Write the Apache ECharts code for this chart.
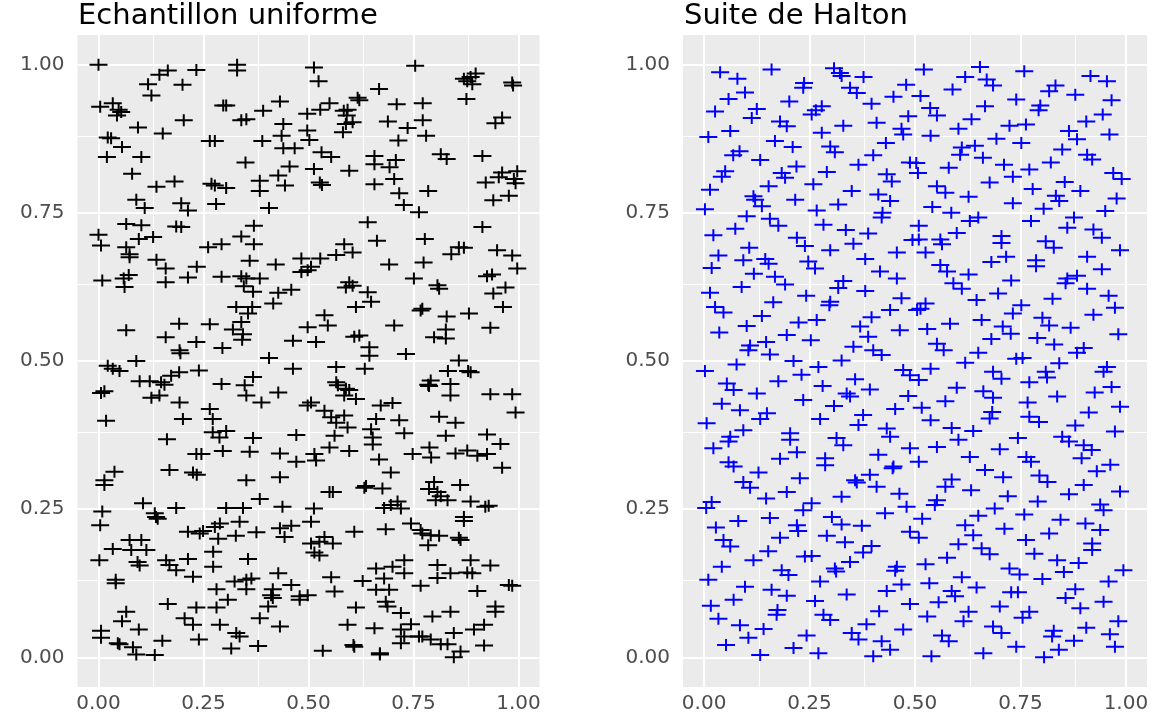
<!DOCTYPE html>
<html>
<head>
<meta charset="utf-8">
<script src="https://cdn.jsdelivr.net/npm/echarts@6/dist/echarts.min.js"></script>
<style>
  html, body { margin: 0; padding: 0; background: #ffffff; }
  #chart { width: 1166px; height: 723px; }
</style>
</head>
<body>
<div id="chart"></div>
<script>
// Panel titles
const panelTitles = ['Echantillon uniforme', 'Suite de Halton'];

// Tick positions and labels (major grid) and minor grid positions
const majorTicks = [0, 0.25, 0.5, 0.75, 1];
const tickLabels = ['0.00', '0.25', '0.50', '0.75', '1.00'];
const minorTicks = [0.125, 0.375, 0.625, 0.875];

// Uniform random sample: [x, y]
const uniformPoints = [
  [0.00,1.00],[0.33,1.00],[0.33,0.99],[0.165,0.99],[0.145,0.983],[0.233,0.991],[0.118,0.967],[0.20,0.966],[0.126,0.948],[0.004,0.929],
  [0.034,0.935],[0.048,0.924],[0.044,0.914],[0.054,0.92],[0.297,0.931],[0.304,0.931],[0.432,0.938],[0.392,0.922],[0.34,0.906],[0.352,0.908],
  [0.203,0.906],[0.094,0.894],[0.153,0.884],[0.022,0.877],[0.03,0.876],[0.056,0.861],[0.02,0.844],[0.102,0.844],[0.265,0.871],[0.277,0.871],
  [0.39,0.871],[0.44,0.90],[0.436,0.88],[0.44,0.859],[0.467,0.859],[0.35,0.835],[0.455,0.828],[0.08,0.816],[0.428,0.813],[0.444,0.796],
  [0.138,0.794],[0.181,0.803],[0.269,0.799],[0.277,0.796],[0.304,0.792],[0.384,0.804],[0.384,0.787],[0.09,0.772],[0.11,0.758],[0.197,0.766],
  [0.213,0.754],[0.28,0.765],[0.406,0.758],[0.066,0.731],[0.102,0.729],[0.185,0.727],[0.197,0.726],[0.37,0.728],[0.00,0.713],[0.006,0.695],
  [0.096,0.706],[0.13,0.709],[0.066,0.692],[0.074,0.68],[0.261,0.692],[0.293,0.697],[0.34,0.71],[0.37,0.697],
  [0.513,0.995],[0.524,0.972],[0.754,0.998],[0.87,0.976],[0.886,0.979],[0.898,0.985],[0.89,0.967],[0.878,0.972],[0.985,0.97],[0.987,0.965],
  [0.668,0.959],[0.617,0.944],[0.621,0.94],[0.876,0.942],[0.55,0.935],[0.528,0.924],[0.497,0.917],[0.584,0.922],[0.593,0.924],[0.591,0.914],
  [0.71,0.933],[0.772,0.935],[0.589,0.90],[0.605,0.903],[0.689,0.904],[0.772,0.906],[0.961,0.911],[0.945,0.901],[0.736,0.893],[0.582,0.886],
  [0.497,0.889],[0.502,0.873],[0.78,0.88],[0.714,0.872],[0.531,0.852],[0.554,0.844],[0.657,0.846],[0.657,0.832],[0.693,0.827],[0.708,0.839],
  [0.815,0.849],[0.829,0.841],[0.914,0.846],[0.513,0.824],[0.597,0.821],[0.527,0.801],[0.532,0.797],[0.657,0.798],[0.704,0.807],[0.961,0.818],
  [0.997,0.82],[0.989,0.807],[0.993,0.80],[0.953,0.81],[0.922,0.801],[0.716,0.783],[0.785,0.787],[0.977,0.779],[0.94,0.771],[0.727,0.763],
  [0.763,0.751],[0.641,0.734],[0.914,0.726],[0.663,0.703],[0.777,0.706],[0.585,0.697],[0.605,0.683],[0.858,0.692],[0.87,0.691],[0.949,0.687],
  [0.84,0.68],
  [0.074,0.675],[0.138,0.671],[0.16,0.656],[0.234,0.659],[0.009,0.636],[0.06,0.639],[0.072,0.645],[0.062,0.625],[0.16,0.633],[0.213,0.641],
  [0.293,0.642],[0.34,0.643],[0.352,0.639],[0.384,0.639],[0.346,0.626],[0.368,0.617],[0.36,0.669],[0.422,0.663],[0.483,0.673],[0.483,0.65],
  [0.428,0.615],[0.459,0.62],[0.416,0.597],[0.328,0.591],[0.366,0.591],[0.356,0.58],[0.34,0.566],[0.192,0.563],[0.265,0.562],[0.066,0.552],
  [0.32,0.553],[0.344,0.545],[0.342,0.536],[0.16,0.54],[0.233,0.532],[0.295,0.522],[0.193,0.518],[0.195,0.513],[0.463,0.534],[0.406,0.505],
  [0.09,0.50],[0.022,0.492],[0.034,0.487],[0.05,0.483],[0.463,0.487],[0.192,0.481],[0.239,0.484],[0.173,0.475],[0.098,0.466],[0.122,0.466],
  [0.149,0.464],[0.157,0.46],[0.293,0.461],[0.368,0.473],[0.348,0.459],[0.014,0.449],[0.006,0.446],[0.352,0.442],[0.428,0.447],[0.126,0.438],
  [0.145,0.442],[0.193,0.43],[0.388,0.43],[0.265,0.419],[0.272,0.402],[0.018,0.399],[0.201,0.402],[0.272,0.38],[0.304,0.382],[0.288,0.371],
  [0.296,0.348],[0.471,0.375],[0.368,0.37],[0.163,0.368],[0.233,0.343],[0.245,0.343],[0.36,0.347],[0.432,0.344],[0.471,0.33],
  [0.506,0.659],[0.528,0.673],[0.498,0.653],[0.566,0.679],[0.692,0.663],[0.774,0.666],[0.985,0.678],[0.997,0.656],[0.751,0.639],[0.925,0.643],
  [0.937,0.646],[0.597,0.633],[0.589,0.624],[0.605,0.627],[0.807,0.628],[0.811,0.622],[0.969,0.624],[0.94,0.614],[0.641,0.616],[0.649,0.60],
  [0.613,0.591],[0.771,0.588],[0.767,0.585],[0.882,0.58],[0.829,0.575],[0.963,0.591],[0.538,0.577],[0.546,0.56],[0.498,0.557],[0.704,0.56],
  [0.933,0.556],[0.609,0.541],[0.621,0.543],[0.799,0.54],[0.827,0.553],[0.827,0.538],[0.518,0.532],[0.645,0.523],[0.645,0.509],[0.732,0.512],
  [0.858,0.501],[0.566,0.49],[0.634,0.487],[0.832,0.483],[0.88,0.483],[0.886,0.481],[0.566,0.464],[0.57,0.459],[0.791,0.467],[0.785,0.46],
  [0.787,0.458],[0.838,0.461],[0.838,0.442],[0.589,0.453],[0.597,0.451],[0.613,0.436],[0.585,0.442],[0.933,0.444],[0.985,0.444],[0.506,0.43],
  [0.498,0.425],[0.672,0.425],[0.70,0.429],[0.993,0.413],[0.538,0.416],[0.554,0.405],[0.566,0.396],[0.585,0.408],[0.593,0.388],[0.562,0.374],
  [0.661,0.402],[0.716,0.40],[0.811,0.406],[0.85,0.396],[0.649,0.385],[0.653,0.371],[0.653,0.359],[0.728,0.378],[0.827,0.374],[0.925,0.376],
  [0.957,0.36],[0.514,0.343],[0.518,0.332],[0.55,0.354],[0.597,0.348],[0.668,0.334],[0.748,0.343],[0.788,0.354],[0.792,0.337],[0.85,0.344],
  [0.878,0.349],[0.902,0.34],[0.925,0.343],
  [0.038,0.313],[0.014,0.299],[0.014,0.291],[0.169,0.316],[0.225,0.312],[0.234,0.308],[0.352,0.299],[0.432,0.304],[0.106,0.26],[0.009,0.246],
  [0.004,0.223],[0.134,0.243],[0.137,0.237],[0.141,0.234],[0.185,0.252],[0.304,0.252],[0.344,0.252],[0.384,0.267],[0.438,0.254],[0.289,0.226],
  [0.277,0.22],[0.336,0.229],[0.213,0.212],[0.241,0.209],[0.249,0.213],[0.285,0.20],[0.327,0.205],[0.376,0.211],[0.432,0.218],[0.459,0.222],
  [0.443,0.203],[0.074,0.198],[0.102,0.198],[0.078,0.181],[0.114,0.181],[0.034,0.183],[0.002,0.164],[0.093,0.161],[0.098,0.155],[0.161,0.164],
  [0.169,0.156],[0.185,0.147],[0.213,0.166],[0.273,0.178],[0.273,0.153],[0.356,0.166],[0.225,0.136],[0.428,0.142],[0.041,0.131],[0.041,0.125],
  [0.324,0.128],[0.352,0.131],[0.364,0.133],[0.352,0.115],[0.281,0.115],[0.459,0.122],[0.415,0.115],[0.411,0.105],[0.415,0.10],[0.479,0.103],
  [0.479,0.097],[0.308,0.097],[0.165,0.09],[0.233,0.084],[0.281,0.084],[0.404,0.086],[0.066,0.077],[0.056,0.061],[0.205,0.066],[0.225,0.055],
  [0.289,0.055],[0.384,0.066],[0.432,0.052],[0.096,0.047],[0.006,0.045],[0.006,0.033],[0.328,0.041],[0.336,0.035],[0.046,0.024],[0.05,0.022],
  [0.152,0.028],[0.239,0.03],[0.082,0.017],[0.09,0.005],[0.134,0.004],[0.316,0.015],[0.38,0.019],
  [0.696,0.312],[0.961,0.32],[0.55,0.279],[0.558,0.279],[0.637,0.289],[0.633,0.286],[0.676,0.285],[0.799,0.296],[0.787,0.284],[0.807,0.279],
  [0.815,0.272],[0.831,0.265],[0.803,0.265],[0.861,0.291],[0.886,0.263],[0.921,0.254],[0.929,0.256],[0.513,0.251],[0.68,0.252],[0.696,0.257],
  [0.712,0.263],[0.72,0.251],[0.87,0.237],[0.87,0.23],[0.506,0.229],[0.609,0.212],[0.684,0.216],[0.744,0.226],[0.767,0.215],[0.771,0.209],
  [0.791,0.206],[0.811,0.205],[0.858,0.202],[0.862,0.198],[0.785,0.189],[0.506,0.192],[0.526,0.195],[0.538,0.203],[0.558,0.192],[0.514,0.177],
  [0.526,0.172],[0.728,0.164],[0.661,0.15],[0.68,0.133],[0.70,0.153],[0.728,0.142],[0.807,0.156],[0.807,0.134],[0.838,0.142],[0.886,0.164],
  [0.878,0.143],[0.89,0.142],[0.933,0.155],[0.554,0.135],[0.629,0.129],[0.977,0.122],[0.985,0.121],[0.498,0.105],[0.562,0.111],[0.661,0.114],
  [0.692,0.114],[0.767,0.121],[0.902,0.112],[0.684,0.094],[0.688,0.086],[0.613,0.084],[0.72,0.075],[0.795,0.069],[0.838,0.077],[0.945,0.086],
  [0.945,0.077],[0.593,0.055],[0.657,0.049],[0.72,0.047],[0.744,0.056],[0.728,0.035],[0.763,0.035],[0.771,0.035],[0.791,0.03],[0.815,0.022],
  [0.831,0.022],[0.846,0.041],[0.894,0.047],[0.918,0.055],[0.72,0.024],[0.918,0.02],[0.534,0.011],[0.607,0.021],[0.609,0.018],[0.67,0.007],
  [0.67,0.005],[0.862,0.01],[0.846,0.00]
];

// Halton sequence points: [x, y]
const haltonPoints = [
  [0.038,0.987],[0.079,0.976],[0.16,0.992],[0.237,0.969],[0.235,0.961],[0.308,0.994],[0.322,0.986],[0.326,0.981],[0.378,0.979],[0.097,0.953],
  [0.058,0.942],[0.346,0.961],[0.362,0.952],[0.479,0.966],[0.449,0.946],[0.397,0.934],[0.202,0.938],[0.026,0.921],[0.125,0.925],[0.113,0.91],
  [0.279,0.93],[0.265,0.923],[0.255,0.916],[0.484,0.913],[0.18,0.904],[0.196,0.896],[0.33,0.897],[0.409,0.902],[0.468,0.892],[0.472,0.882],
  [0.01,0.878],[0.062,0.888],[0.279,0.885],[0.168,0.871],[0.21,0.861],[0.084,0.854],[0.069,0.847],[0.299,0.862],[0.31,0.852],[0.431,0.868],
  [0.401,0.847],[0.133,0.839],[0.488,0.835],[0.366,0.831],[0.219,0.828],[0.05,0.82],[0.042,0.811],[0.184,0.817],[0.192,0.809],[0.291,0.819],
  [0.433,0.815],[0.445,0.803],[0.153,0.795],[0.259,0.798],[0.014,0.789],[0.117,0.778],[0.121,0.772],[0.35,0.787],[0.413,0.781],[0.441,0.77],
  [0.216,0.772],[0.318,0.764],[0.137,0.761],[0.002,0.756],[0.267,0.754],[0.423,0.75],[0.421,0.742],[0.101,0.744],[0.156,0.74],[0.176,0.728],
  [0.283,0.73],[0.074,0.723],[0.336,0.721],[0.022,0.712],[0.389,0.715],[0.22,0.708],[0.239,0.694],[0.354,0.698],[0.107,0.691],[0.299,0.687],
  [0.494,0.704],[0.457,0.683],[0.034,0.678],
  [0.521,0.992],[0.654,0.996],[0.619,0.979],[0.67,0.975],[0.685,0.965],[0.759,0.989],[0.916,0.981],[0.955,0.972],[0.589,0.958],[0.833,0.965],
  [0.818,0.955],[0.513,0.947],[0.88,0.949],[0.966,0.94],[0.74,0.941],[0.666,0.93],[0.797,0.931],[0.793,0.923],[0.536,0.927],[0.552,0.914],
  [0.634,0.908],[0.945,0.916],[0.906,0.904],[0.724,0.897],[0.763,0.899],[0.603,0.892],[0.865,0.888],[0.884,0.874],[0.537,0.88],[0.961,0.882],
  [0.693,0.875],[0.752,0.868],[0.611,0.86],[0.607,0.848],[0.642,0.863],[0.849,0.857],[0.908,0.848],[0.92,0.84],[0.661,0.843],[0.503,0.834],
  [0.507,0.817],[0.58,0.826],[0.711,0.831],[0.822,0.835],[0.771,0.823],[0.732,0.811],[0.97,0.817],[0.99,0.807],[0.677,0.801],[0.855,0.802],
  [0.552,0.795],[0.572,0.784],[0.779,0.79],[0.892,0.787],[0.834,0.779],[0.842,0.77],[0.627,0.777],[0.978,0.774],[0.732,0.766],[0.541,0.76],
  [0.586,0.75],[0.805,0.757],[0.951,0.753],[0.65,0.742],[0.63,0.736],[0.509,0.728],[0.775,0.736],[0.877,0.742],[0.861,0.725],[0.923,0.722],
  [0.943,0.708],[0.599,0.716],[0.56,0.705],[0.564,0.697],[0.509,0.705],[0.705,0.711],[0.705,0.699],[0.81,0.702],[0.829,0.691],[0.525,0.683],
  [0.986,0.687],
  [0.018,0.657],[0.093,0.67],[0.145,0.672],[0.153,0.664],[0.247,0.668],[0.263,0.656],[0.382,0.672],[0.118,0.647],[0.168,0.642],[0.192,0.629],
  [0.417,0.651],[0.457,0.639],[0.089,0.625],[0.33,0.635],[0.318,0.623],[0.014,0.615],[0.242,0.61],[0.382,0.618],[0.468,0.606],[0.164,0.599],
  [0.299,0.60],[0.297,0.594],[0.026,0.591],[0.046,0.582],[0.441,0.586],[0.137,0.576],[0.397,0.574],[0.224,0.565],[0.267,0.569],[0.101,0.559],
  [0.37,0.558],[0.464,0.552],[0.036,0.548],[0.196,0.544],[0.389,0.541],[0.147,0.532],[0.109,0.526],[0.105,0.518],[0.253,0.535],[0.354,0.524],
  [0.401,0.518],[0.421,0.51],[0.156,0.511],[0.212,0.50],[0.326,0.501],[0.077,0.494],[0.271,0.49],[0.002,0.483],[0.472,0.485],[0.488,0.476],
  [0.231,0.477],[0.176,0.466],[0.358,0.469],[0.054,0.462],[0.07,0.451],[0.281,0.458],[0.125,0.445],[0.338,0.445],[0.346,0.44],[0.393,0.452],
  [0.484,0.441],[0.235,0.434],[0.042,0.428],[0.308,0.424],[0.085,0.417],[0.453,0.419],[0.149,0.412],[0.133,0.402],[0.377,0.409],[0.275,0.402],
  [0.006,0.395],[0.366,0.392],[0.433,0.386],[0.441,0.372],[0.093,0.383],[0.062,0.372],[0.058,0.364],[0.204,0.378],[0.204,0.367],[0.314,0.37],
  [0.33,0.358],[0.022,0.353],[0.22,0.346],[0.413,0.342],[0.488,0.353],[0.18,0.335],[0.287,0.336],[0.287,0.324],[0.058,0.329],[0.07,0.322],
  [0.449,0.322],
  [0.56,0.662],[0.576,0.651],[0.681,0.667],[0.716,0.676],[0.787,0.67],[0.787,0.66],[0.908,0.676],[0.627,0.646],[0.728,0.636],[0.861,0.639],
  [0.857,0.631],[0.884,0.644],[0.943,0.655],[0.591,0.631],[0.611,0.622],[0.908,0.622],[0.646,0.603],[0.697,0.614],[0.826,0.605],[0.959,0.61],
  [0.525,0.597],[0.513,0.588],[0.505,0.586],[0.752,0.594],[0.974,0.59],[0.732,0.58],[0.923,0.578],[0.802,0.573],[0.818,0.56],[0.658,0.569],
  [0.583,0.563],[0.708,0.558],[0.727,0.546],[0.529,0.554],[0.869,0.556],[0.982,0.545],[0.681,0.537],[0.79,0.539],[0.552,0.529],[0.568,0.518],
  [0.83,0.528],[0.90,0.522],[0.884,0.514],[0.65,0.514],[0.74,0.504],[0.755,0.505],[0.619,0.497],[0.842,0.496],[0.537,0.487],[0.955,0.49],
  [0.947,0.482],[0.685,0.482],[0.705,0.47],[0.81,0.482],[0.813,0.472],[0.509,0.468],[0.771,0.464],[0.599,0.455],[0.966,0.456],[0.662,0.449],
  [0.685,0.438],[0.926,0.447],[0.837,0.44],[0.572,0.432],[0.767,0.43],[0.516,0.421],[0.986,0.423],[0.683,0.414],[0.677,0.403],[0.912,0.413],
  [0.771,0.406],[0.794,0.397],[0.537,0.40],[0.88,0.391],[0.587,0.387],[0.638,0.382],[0.974,0.381],[0.849,0.372],[0.865,0.364],[0.744,0.37],
  [0.603,0.367],[0.552,0.355],[0.90,0.358],[0.919,0.35],[0.701,0.351],[0.63,0.338],[0.764,0.338],[0.775,0.33],[0.895,0.336],[0.509,0.33],
  [0.963,0.325],
  [0.129,0.312],[0.227,0.302],[0.093,0.296],[0.109,0.286],[0.358,0.299],[0.362,0.295],[0.393,0.308],[0.447,0.319],[0.409,0.288],[0.196,0.279],
  [0.326,0.271],[0.147,0.268],[0.463,0.276],[0.018,0.262],[0.005,0.252],[0.255,0.26],[0.235,0.248],[0.48,0.254],[0.429,0.243],[0.156,0.235],
  [0.081,0.23],[0.303,0.237],[0.326,0.224],[0.028,0.219],[0.22,0.223],[0.223,0.213],[0.374,0.222],[0.18,0.202],[0.291,0.205],[0.046,0.198],
  [0.062,0.187],[0.334,0.194],[0.488,0.212],[0.152,0.179],[0.397,0.188],[0.377,0.177],[0.239,0.17],[0.255,0.171],[0.117,0.164],[0.346,0.161],
  [0.042,0.153],[0.184,0.147],[0.20,0.139],[0.31,0.15],[0.313,0.145],[0.457,0.153],[0.453,0.146],[0.01,0.131],[0.275,0.128],[0.097,0.119],
  [0.16,0.114],[0.468,0.123],[0.338,0.106],[0.433,0.112],[0.196,0.104],[0.07,0.097],[0.263,0.095],[0.016,0.087],[0.488,0.09],[0.174,0.08],
  [0.172,0.072],[0.283,0.072],[0.299,0.063],[0.415,0.078],[0.034,0.065],[0.385,0.056],[0.085,0.054],[0.141,0.048],[0.472,0.047],[0.243,0.037],
  [0.35,0.041],[0.366,0.03],[0.105,0.033],[0.421,0.027],[0.441,0.013],[0.052,0.021],[0.212,0.016],[0.271,0.007],[0.133,0.004],[0.401,0.002],
  [0.666,0.316],[0.709,0.304],[0.795,0.307],[0.814,0.296],[0.931,0.314],[0.587,0.30],[0.572,0.288],[0.90,0.291],[0.633,0.282],[0.986,0.28],
  [0.865,0.275],[0.72,0.272],[0.552,0.265],[0.547,0.257],[0.791,0.263],[0.939,0.258],[0.947,0.248],[0.689,0.251],[0.65,0.239],[0.759,0.241],
  [0.517,0.234],[0.845,0.232],[0.619,0.223],[0.904,0.226],[0.939,0.215],[0.712,0.217],[0.638,0.206],[0.818,0.209],[0.509,0.202],[0.763,0.198],
  [0.603,0.191],[0.658,0.184],[0.677,0.174],[0.92,0.192],[0.92,0.181],[0.783,0.175],[0.576,0.168],[0.837,0.164],[0.888,0.159],[0.525,0.157],
  [0.724,0.15],[0.748,0.14],[0.853,0.144],[0.994,0.147],[0.611,0.135],[0.802,0.132],[0.534,0.125],[0.959,0.128],[0.646,0.118],[0.587,0.112],
  [0.595,0.103],[0.728,0.11],[0.744,0.11],[0.88,0.115],[0.857,0.10],[0.947,0.094],[0.556,0.093],[0.701,0.086],[0.892,0.083],[0.627,0.077],
  [0.771,0.077],[0.755,0.067],[0.529,0.069],[0.615,0.061],[0.982,0.061],[0.685,0.052],[0.705,0.041],[0.906,0.05],[0.829,0.045],[0.825,0.035],
  [0.564,0.037],[0.58,0.027],[0.962,0.039],[0.877,0.028],[0.74,0.018],[0.974,0.018],[0.841,0.013],[0.662,0.007],[0.539,0.002],[0.806,0.00]
];

// ---- drawing ----
const FONT = 'DejaVu Sans';
const PANEL_BG = '#EBEBEB';
const TEXT_GREY = '#4D4D4D';
// "+" marker built from two thin bars
const PLUS = 'path://M0,5H18V7H0ZM8,0H10V12H8Z';

function valueAxis(idx, isX) {
  return {
    type: 'value',
    gridIndex: idx,
    min: -0.05,
    max: 1.05,
    z: 0,
    axisLine: { show: false },
    splitLine: { show: false },
    axisTick: {
      show: true,
      customValues: majorTicks,
      length: 4,
      lineStyle: { color: '#333333', width: 1 }
    },
    axisLabel: {
      show: true,
      customValues: majorTicks,
      formatter: v => tickLabels[majorTicks.indexOf(+v.toFixed(3))] ?? v.toFixed(2),
      color: TEXT_GREY,
      fontFamily: FONT,
      fontSize: 20,
      margin: isX ? 7 : 13
    }
  };
}

function gridLines(idx) {
  const data = [];
  minorTicks.forEach(v => {
    data.push({ xAxis: v, lineStyle: { width: 1 } });
    data.push({ yAxis: v, lineStyle: { width: 1 } });
  });
  majorTicks.forEach(v => {
    data.push({ xAxis: v, lineStyle: { width: 2 } });
    data.push({ yAxis: v, lineStyle: { width: 2 } });
  });
  return {
    type: 'scatter',
    xAxisIndex: idx,
    yAxisIndex: idx,
    data: [],
    z: 1,
    silent: true,
    markLine: {
      z: 1,
      silent: true,
      symbol: ['none', 'none'],
      label: { show: false },
      animation: false,
      lineStyle: { color: '#FFFFFF', type: 'solid' },
      data: data
    }
  };
}

function points(idx, data, color) {
  return {
    type: 'scatter',
    xAxisIndex: idx,
    yAxisIndex: idx,
    data: data,
    symbol: PLUS,
    symbolSize: [18, 12],
    itemStyle: { color: color, opacity: 1 },
    z: 6,
    silent: true
  };
}

const chart = echarts.init(document.getElementById('chart'), null, { renderer: 'canvas' });
chart.setOption({
  animation: false,
  backgroundColor: '#FFFFFF',
  title: [
    { text: panelTitles[0], left: 78, top: 2, padding: 0,
      textStyle: { fontFamily: FONT, fontSize: 29, fontWeight: 'normal', color: '#000000' } },
    { text: panelTitles[1], left: 684, top: 2, padding: 0,
      textStyle: { fontFamily: FONT, fontSize: 29, fontWeight: 'normal', color: '#000000' } }
  ],
  grid: [
    { left: 77.5, top: 35, width: 462, height: 652, show: true, backgroundColor: PANEL_BG, borderWidth: 0, z: 0 },
    { left: 683, top: 35, width: 464, height: 652, show: true, backgroundColor: PANEL_BG, borderWidth: 0, z: 0 }
  ],
  xAxis: [valueAxis(0, true), valueAxis(1, true)],
  yAxis: [valueAxis(0, false), valueAxis(1, false)],
  series: [
    gridLines(0),
    gridLines(1),
    points(0, uniformPoints, '#000000'),
    points(1, haltonPoints, '#0000FF')
  ]
});
</script>
</body>
</html>
